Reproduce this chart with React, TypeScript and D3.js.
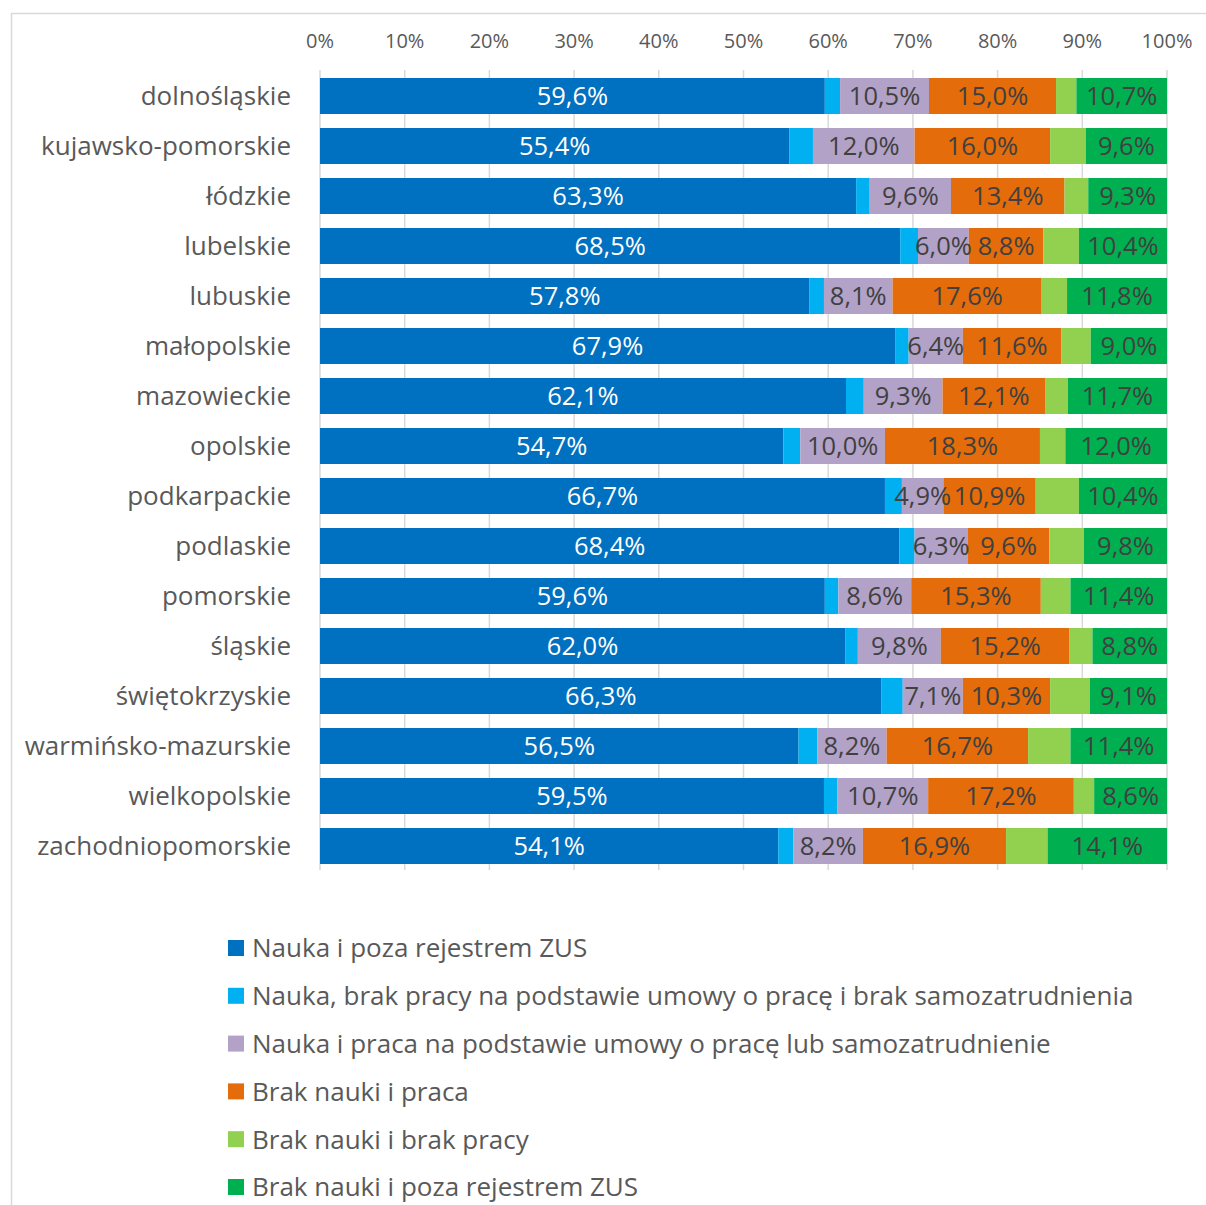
import { useEffect, useRef } from 'react';
import * as d3 from 'd3';

const regions = [
  'dolnośląskie', 'kujawsko-pomorskie', 'łódzkie', 'lubelskie', 'lubuskie',
  'małopolskie', 'mazowieckie', 'opolskie', 'podkarpackie', 'podlaskie',
  'pomorskie', 'śląskie', 'świętokrzyskie', 'warmińsko-mazurskie',
  'wielkopolskie', 'zachodniopomorskie',
];

const seriesNames = [
  'Nauka i poza rejestrem ZUS',
  'Nauka, brak pracy na podstawie umowy o pracę i brak samozatrudnienia',
  'Nauka i praca na podstawie umowy o pracę lub samozatrudnienie',
  'Brak nauki i praca',
  'Brak nauki i brak pracy',
  'Brak nauki i poza rejestrem ZUS',
];

const seriesColors = ['#0070C0', '#00B0F0', '#B3A2C7', '#E46C0A', '#92D050', '#00B050'];

// values per series, in region order
const naukaPoza = [59.6, 55.4, 63.3, 68.5, 57.8, 67.9, 62.1, 54.7, 66.7, 68.4, 59.6, 62.0, 66.3, 56.5, 59.5, 54.1];
const naukaBrakPracy = [1.8, 2.8, 1.6, 2.1, 1.7, 1.6, 2.1, 2.0, 2.0, 1.8, 1.6, 1.5, 2.5, 2.2, 1.6, 1.8];
const naukaPraca = [10.5, 12.0, 9.6, 6.0, 8.1, 6.4, 9.3, 10.0, 4.9, 6.3, 8.6, 9.8, 7.1, 8.2, 10.7, 8.2];
const brakNaukiPraca = [15.0, 16.0, 13.4, 8.8, 17.6, 11.6, 12.1, 18.3, 10.9, 9.6, 15.3, 15.2, 10.3, 16.7, 17.2, 16.9];
const brakNaukiBrakPracy = [2.4, 4.2, 2.8, 4.2, 3.0, 3.5, 2.7, 3.0, 5.1, 4.1, 3.5, 2.7, 4.7, 5.0, 2.4, 4.9];
const brakNaukiPoza = [10.7, 9.6, 9.3, 10.4, 11.8, 9.0, 11.7, 12.0, 10.4, 9.8, 11.4, 8.8, 9.1, 11.4, 8.6, 14.1];

const seriesValues = [naukaPoza, naukaBrakPracy, naukaPraca, brakNaukiPraca, brakNaukiBrakPracy, brakNaukiPoza];
const labelledSeries = [0, 2, 3, 5];
const ticks = [0, 10, 20, 30, 40, 50, 60, 70, 80, 90, 100];

const App = () => {
  const ref = useRef<SVGSVGElement>(null);

  useEffect(() => {
    if (!ref.current) return;
    const svg = d3.select(ref.current);
    svg.selectAll('*').remove();

    const width = 1206;
    const height = 1205;
    const font = '"Open Sans", Lato, sans-serif';

    svg.append('rect').attr('width', width).attr('height', height).attr('fill', '#fff');
    // chart frame
    svg.append('rect')
      .attr('x', 11.5).attr('y', 13.5)
      .attr('width', 1210).attr('height', 1210)
      .attr('fill', 'none').attr('stroke', '#d9d9d9').attr('stroke-width', 1.5);

    const x = d3.scaleLinear().domain([0, 100]).range([320, 1167]);
    const y = d3.scaleBand<string>().domain(regions).range([71, 871])
      .paddingInner(0.28).paddingOuter(0.14);

    // gridlines
    svg.append('g').selectAll('line')
      .data(ticks)
      .join('line')
      .attr('x1', d => x(d)).attr('x2', d => x(d))
      .attr('y1', 70).attr('y2', 870)
      .attr('stroke', '#d9d9d9').attr('stroke-width', 1.5);

    // tick labels
    svg.append('g').selectAll('text')
      .data(ticks)
      .join('text')
      .attr('x', d => x(d)).attr('y', 41)
      .attr('dy', '0.35em')
      .attr('text-anchor', 'middle')
      .attr('font-family', font).attr('font-size', 20)
      .attr('fill', '#595959')
      .text(d => `${d}%`);

    // stacked data
    const rows = regions.map((r, i) => {
      const obj: Record<string, any> = { region: r };
      seriesValues.forEach((s, k) => { obj[`s${k}`] = s[i]; });
      return obj;
    });
    const keys = seriesValues.map((_, k) => `s${k}`);
    const stacked = d3.stack<any>().keys(keys)(rows);

    const layers = svg.append('g').selectAll('g')
      .data(stacked)
      .join('g')
      .attr('fill', (_, k) => seriesColors[k]);

    layers.selectAll('rect')
      .data(d => d)
      .join('rect')
      .attr('x', d => x(d[0]))
      .attr('y', d => y(d.data.region)!)
      .attr('width', d => x(d[1]) - x(d[0]))
      .attr('height', y.bandwidth());

    // data labels
    const fmt = (v: number) => v.toFixed(1).replace('.', ',') + '%';
    labelledSeries.forEach(k => {
      svg.append('g').selectAll('text')
        .data(stacked[k])
        .join('text')
        .attr('x', d => x((d[0] + d[1]) / 2))
        .attr('y', d => y(d.data.region)! + y.bandwidth() / 2)
        .attr('dy', '0.36em')
        .attr('text-anchor', 'middle')
        .attr('font-family', font).attr('font-size', 25.5)
        .attr('fill', k === 0 ? '#ffffff' : '#404040')
        .text(d => fmt(d[1] - d[0]));
    });

    // category labels
    svg.append('g').selectAll('text')
      .data(regions)
      .join('text')
      .attr('x', 291)
      .attr('y', d => y(d)! + y.bandwidth() / 2)
      .attr('dy', '0.36em')
      .attr('text-anchor', 'end')
      .attr('font-family', font).attr('font-size', 26)
      .attr('fill', '#595959')
      .text(d => d);

    // legend
    const legend = svg.append('g').selectAll('g')
      .data(seriesNames)
      .join('g')
      .attr('transform', (_, i) => `translate(228, ${948 + i * 47.8})`);
    legend.append('rect')
      .attr('x', 0).attr('y', -8)
      .attr('width', 16).attr('height', 16)
      .attr('fill', (_, i) => seriesColors[i]);
    legend.append('text')
      .attr('x', 24).attr('y', 0)
      .attr('dy', '0.36em')
      .attr('font-family', font).attr('font-size', 26)
      .attr('fill', '#595959')
      .text(d => d);
  }, []);

  return (
    <svg
      ref={ref}
      width={1206}
      height={1205}
      style={{ position: 'absolute', left: 0, top: 0, display: 'block' }}
    />
  );
};

export default App;
